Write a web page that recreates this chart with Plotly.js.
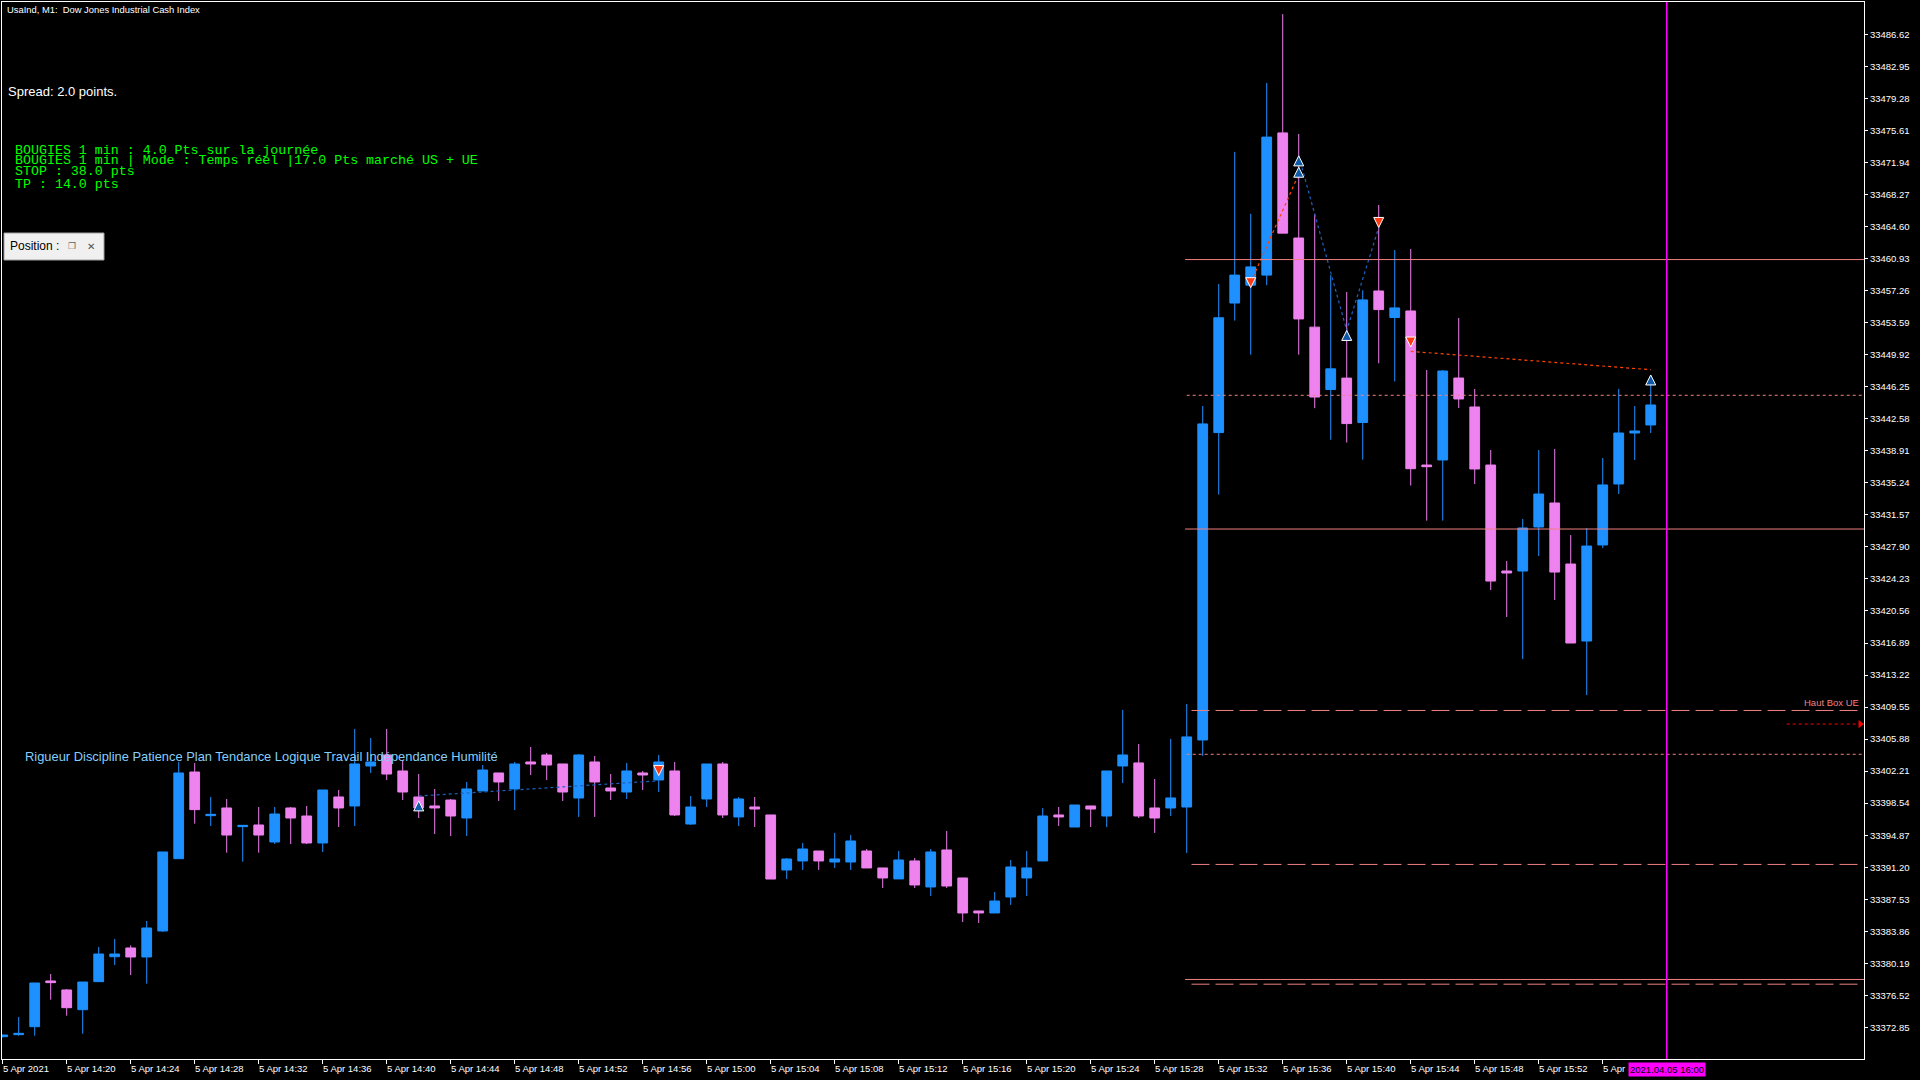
<!DOCTYPE html>
<html>
<head>
<meta charset="utf-8">
<script src="https://cdn.plot.ly/plotly-3.0.1.min.js"></script>
<style>
  html, body { margin: 0; padding: 0; background: #000000; }
  #chart { width: 1920px; height: 1080px; }
</style>
</head>
<body>
<div id="chart"></div>
<script>
// UsaInd M1 bars, 5 Apr 2021, one per minute from 14:16 to 15:59
const opens = [
  33371.79, 33372.02, 33372.93, 33378.17, 33377.14, 33374.88, 33378.09, 33380.95, 33381.95, 33380.92,
  33383.90, 33392.18, 33402.11, 33397.11, 33397.99, 33395.85, 33396.04, 33394.09, 33397.99, 33397.07,
  33393.98, 33399.25, 33398.22, 33402.80, 33404.06, 33402.23, 33399.25, 33398.22, 33398.90, 33396.84,
  33399.94, 33402.00, 33400.17, 33403.26, 33404.06, 33403.03, 33399.13, 33403.26, 33400.28, 33399.82,
  33402.00, 33401.20, 33402.23, 33396.15, 33399.02, 33403.03, 33396.96, 33398.10, 33397.19, 33390.88,
  33391.92, 33393.06, 33391.80, 33391.80, 33393.06, 33391.12, 33389.86, 33391.92, 33388.94, 33393.18,
  33389.97, 33386.19, 33385.96, 33387.79, 33389.97, 33391.92, 33397.19, 33395.81, 33398.22, 33397.07,
  33402.80, 33403.15, 33397.99, 33397.99, 33398.10, 33405.78, 33441.00, 33455.84, 33457.89, 33459.04,
  33475.33, 33463.29, 33453.08, 33445.93, 33447.24, 33442.15, 33457.22, 33454.18, 33454.93, 33437.28,
  33437.86, 33447.25, 33443.93, 33437.28, 33425.14, 33425.14, 33430.18, 33432.93, 33425.94, 33417.12,
  33428.12, 33435.11, 33440.95, 33441.87
];
const highs = [
  33372.00, 33374.04, 33377.94, 33378.97, 33377.25, 33378.05, 33382.06, 33382.98, 33382.25, 33385.04,
  33392.95, 33403.26, 33403.14, 33399.25, 33399.02, 33396.00, 33398.10, 33398.10, 33398.10, 33398.22,
  33400.05, 33400.05, 33407.04, 33406.01, 33407.04, 33403.49, 33401.88, 33400.17, 33399.02, 33400.97,
  33402.91, 33402.00, 33403.26, 33404.98, 33404.29, 33403.03, 33404.17, 33403.94, 33401.88, 33403.14,
  33402.23, 33404.06, 33403.26, 33399.36, 33403.03, 33403.26, 33399.25, 33399.25, 33397.19, 33392.26,
  33393.98, 33393.06, 33395.13, 33394.90, 33393.29, 33391.12, 33393.06, 33392.26, 33393.29, 33395.36,
  33389.97, 33386.19, 33388.37, 33392.03, 33393.06, 33397.99, 33398.10, 33398.33, 33398.22, 33402.23,
  33409.22, 33405.32, 33401.31, 33405.90, 33409.90, 33444.04, 33458.01, 33473.16, 33466.06, 33481.05,
  33488.94, 33475.21, 33466.06, 33459.04, 33457.11, 33457.30, 33467.08, 33461.92, 33462.03, 33448.17,
  33448.17, 33454.13, 33446.00, 33439.00, 33426.28, 33431.10, 33439.00, 33439.12, 33429.26, 33430.07,
  33438.09, 33446.00, 33444.04, 33447.40
];
const lows = [
  33371.70, 33371.90, 33371.90, 33376.03, 33374.19, 33372.13, 33378.09, 33380.00, 33378.85, 33377.86,
  33383.78, 33392.18, 33396.19, 33395.93, 33392.87, 33391.84, 33392.87, 33393.86, 33393.86, 33393.86,
  33392.95, 33395.81, 33395.93, 33402.00, 33401.20, 33398.90, 33396.84, 33395.01, 33394.78, 33394.78,
  33399.94, 33398.79, 33397.76, 33401.77, 33401.20, 33398.79, 33396.96, 33396.96, 33398.90, 33399.02,
  33400.05, 33399.82, 33397.07, 33396.04, 33398.10, 33396.84, 33395.93, 33395.81, 33389.85, 33389.85,
  33390.88, 33390.89, 33391.12, 33390.89, 33391.12, 33388.82, 33389.86, 33388.82, 33387.91, 33388.82,
  33384.93, 33384.81, 33385.96, 33386.88, 33387.91, 33391.92, 33395.93, 33395.81, 33395.81, 33395.81,
  33400.85, 33396.84, 33395.13, 33397.07, 33392.84, 33403.95, 33433.90, 33453.83, 33449.92, 33457.89,
  33463.85, 33449.92, 33443.80, 33440.18, 33439.86, 33437.89, 33448.94, 33446.85, 33434.93, 33430.91,
  33430.91, 33443.81, 33435.11, 33422.96, 33419.87, 33415.06, 33426.86, 33421.82, 33416.89, 33410.93,
  33427.77, 33433.96, 33437.86, 33440.95
];
const closes = [
  33371.98, 33372.17, 33377.94, 33377.98, 33375.11, 33378.05, 33381.26, 33381.26, 33380.92, 33384.24,
  33392.95, 33402.00, 33397.80, 33397.26, 33394.89, 33396.00, 33394.89, 33397.30, 33396.84, 33393.98,
  33400.05, 33397.99, 33403.03, 33403.26, 33401.88, 33399.82, 33397.99, 33397.99, 33397.07, 33400.17,
  33402.34, 33400.97, 33403.03, 33403.03, 33402.91, 33399.82, 33404.06, 33400.97, 33399.94, 33402.23,
  33401.77, 33403.26, 33397.19, 33398.10, 33403.03, 33397.19, 33399.02, 33397.87, 33389.85, 33392.14,
  33393.29, 33391.92, 33392.15, 33394.21, 33391.12, 33389.97, 33392.03, 33389.17, 33392.95, 33389.05,
  33385.96, 33385.96, 33387.33, 33391.23, 33391.12, 33397.07, 33396.96, 33398.33, 33397.87, 33402.23,
  33404.06, 33397.07, 33396.84, 33399.14, 33406.13, 33441.99, 33454.15, 33459.04, 33459.98, 33474.85,
  33463.85, 33454.02, 33445.07, 33448.30, 33442.03, 33456.20, 33455.09, 33455.28, 33436.86, 33437.09,
  33448.05, 33444.85, 33436.83, 33423.99, 33424.91, 33430.07, 33433.96, 33425.02, 33416.89, 33428.00,
  33435.00, 33440.95, 33441.18, 33444.16
];

// time axis: bar index 0 = 14:16
const xTickPos = [0, 4, 8, 12, 16, 20, 24, 28, 32, 36, 40, 44, 48, 52, 56, 60, 64, 68, 72, 76, 80, 84, 88, 92, 96, 100];
const xTickText = [
  "5 Apr 2021", "5 Apr 14:20", "5 Apr 14:24", "5 Apr 14:28", "5 Apr 14:32", "5 Apr 14:36", "5 Apr 14:40",
  "5 Apr 14:44", "5 Apr 14:48", "5 Apr 14:52", "5 Apr 14:56", "5 Apr 15:00", "5 Apr 15:04", "5 Apr 15:08",
  "5 Apr 15:12", "5 Apr 15:16", "5 Apr 15:20", "5 Apr 15:24", "5 Apr 15:28", "5 Apr 15:32", "5 Apr 15:36",
  "5 Apr 15:40", "5 Apr 15:44", "5 Apr 15:48", "5 Apr 15:52", "5 Apr"
];
const yTickVals = [
  33372.85, 33376.52, 33380.19, 33383.86, 33387.53, 33391.20, 33394.87, 33398.54, 33402.21, 33405.88,
  33409.55, 33413.22, 33416.89, 33420.56, 33424.23, 33427.90, 33431.57, 33435.24, 33438.91, 33442.58,
  33446.25, 33449.92, 33453.59, 33457.26, 33460.93, 33464.60, 33468.27, 33471.94, 33475.61, 33479.28,
  33482.95, 33486.62
];

// levels drawn from 15:30 to the right edge
const solidLevels = [33460.82, 33429.95, 33378.34];
const dashLevels = [33409.16, 33391.52, 33377.80];
const dotLevels = [33445.27, 33404.14];
const levelStart = 74;

// signal links and arrows
const sigBlue1X = [26, 41], sigBlue1Y = [33399.36, 33401.10];
const sigRed1X = [78, 81], sigRed1Y = [33458.20, 33470.60];
const sigBlue2X = [81, 84, 86], sigBlue2Y = [33472.70, 33452.70, 33464.50];
const sigRed2X = [88, 103], sigRed2Y = [33450.30, 33448.20];
const upX = [26, 81, 81, 84, 103], upY = [33398.80, 33472.70, 33471.40, 33452.70, 33447.60];
const downX = [41, 78, 86, 88], downY = [33401.70, 33457.60, 33464.50, 33450.80];

const nowBar = 104; // 16:00
const bidArrowX = [111.5, 116.1], bidArrowY = 33407.60;

const infoLines = [
  "BOUGIES 1 min : 4.0 Pts sur la journée",
  "BOUGIES 1 min | Mode : Temps réel |17.0 Pts marché US + UE",
  "STOP : 38.0 pts",
  "TP : 14.0 pts"
];
const infoLineY = [150, 160.5, 172, 184];
const mottoText = "Rigueur Discipline Patience Plan Tendance Logique Travail Indépendance Humilité";

const X_RANGE = [-0.044, 116.33];
const Y_RANGE = [33369.23, 33490.33];

// plot area in pixels (for placing texts like the terminal does)
const PL = 2, PT = 2, PW = 1862, PH = 1057;
const fx = (px) => (px - PL) / PW;
const fy = (py) => 1 - (py - PT) / PH;

const BLUE = "#1e90ff";
const VIOLET = "#ee82ee";
const CORAL = "#f08080";

function buildTraces() {
  const candles = {
    type: "candlestick",
    x: opens.map((_, i) => i),
    open: opens,
    high: highs,
    low: lows,
    close: closes,
    increasing: { line: { color: BLUE, width: 1 }, fillcolor: BLUE },
    decreasing: { line: { color: VIOLET, width: 1 }, fillcolor: VIOLET },
    whiskerwidth: 0,
    hoverinfo: "skip",
  };

  const link = (x, y, color) => ({
    type: "scatter",
    mode: "lines",
    x,
    y,
    line: { color, width: 1.2, dash: "3px,3px" },
    hoverinfo: "skip",
  });

  return [
    candles,
    link(sigBlue1X, sigBlue1Y, "#1a62c0"),
    link(sigRed1X, sigRed1Y, "#ff4500"),
    link(sigBlue2X, sigBlue2Y, "#1a62c0"),
    link(sigRed2X, sigRed2Y, "#ff4500"),
    {
      type: "scatter",
      mode: "markers",
      x: upX,
      y: upY,
      marker: { symbol: "arrow-up", size: 10, color: "#0f5aa8", line: { color: "#ffffff", width: 1 } },
      hoverinfo: "skip",
    },
    {
      type: "scatter",
      mode: "markers",
      x: downX,
      y: downY,
      marker: { symbol: "arrow-down", size: 10, color: "#ff3a12", line: { color: "#ffffff", width: 1 } },
      hoverinfo: "skip",
    },
    {
      type: "scatter",
      mode: "markers",
      x: [bidArrowX[1]],
      y: [bidArrowY],
      marker: { symbol: "triangle-right", size: 7, color: "#ff0000" },
      cliponaxis: false,
      hoverinfo: "skip",
    },
  ];
}

function buildShapes() {
  const shapes = [];
  solidLevels.forEach((lv) => {
    shapes.push({ type: "line", xref: "x", yref: "y", x0: levelStart - 0.1, x1: X_RANGE[1], y0: lv, y1: lv,
      line: { color: CORAL, width: 1 } });
  });
  dashLevels.forEach((lv) => {
    shapes.push({ type: "line", xref: "x", yref: "y", x0: levelStart + 0.3, x1: X_RANGE[1] - 0.2, y0: lv, y1: lv,
      line: { color: CORAL, width: 1, dash: "18px,6px" } });
  });
  dotLevels.forEach((lv) => {
    shapes.push({ type: "line", xref: "x", yref: "y", x0: levelStart, x1: X_RANGE[1], y0: lv, y1: lv,
      line: { color: CORAL, width: 1, dash: "3px,3px" } });
  });
  shapes.push({ type: "line", xref: "x", yref: "y", x0: bidArrowX[0], x1: bidArrowX[1], y0: bidArrowY, y1: bidArrowY,
    line: { color: "#ff0000", width: 1, dash: "3px,3px" } });
  shapes.push({ type: "line", xref: "x", yref: "paper", x0: nowBar, x1: nowBar, y0: 0, y1: 1,
    line: { color: "#ff00ff", width: 1.5 } });
  // "Position" panel
  shapes.push({ type: "rect", xref: "paper", yref: "paper", x0: fx(4), x1: fx(104), y0: fy(260), y1: fy(233),
    fillcolor: "#f0f0f0", line: { color: "#a0a0a0", width: 1 } });
  return shapes;
}

function buildAnnotations() {
  const ann = [];
  const txt = (text, px, py, font, extra) =>
    Object.assign({ text, xref: "paper", yref: "paper", x: fx(px), y: fy(py), xanchor: "left", yanchor: "middle",
      showarrow: false, font, borderpad: 0 }, extra || {});

  ann.push(txt("UsaInd, M1:\u00a0 Dow Jones Industrial Cash Index", 6, 9.5,
    { family: "Liberation Sans, Arial, sans-serif", size: 9.4, color: "#ffffff" }));
  ann.push(txt("Spread: 2.0 points.", 6.5, 91,
    { family: "Liberation Sans, Arial, sans-serif", size: 13, color: "#ffffff" }));
  infoLines.forEach((line, i) => {
    ann.push(txt(line.replace(/ /g, "\u00a0"), 13.5, infoLineY[i],
      { family: "Liberation Mono, Courier New, monospace", size: 13.3, color: "#00ff00" }));
  });
  ann.push(txt(mottoText, 23.5, 756,
    { family: "Liberation Sans, Arial, sans-serif", size: 12.9, color: "#87cefa" }));

  ann.push(txt("Position :", 9, 246.5, { family: "Liberation Sans, Arial, sans-serif", size: 12, color: "#000000" }));
  ann.push(txt("\u2750", 67, 246.5, { family: "DejaVu Sans, sans-serif", size: 9, color: "#606060" }));
  ann.push(txt("\u2715", 86, 246.5, { family: "DejaVu Sans, sans-serif", size: 10, color: "#505050" }));

  ann.push({ text: "Haut Box UE", xref: "x", yref: "y", x: 116.08, y: dashLevels[0], xanchor: "right", yanchor: "bottom",
    yshift: 1, showarrow: false, borderpad: 0,
    font: { family: "Liberation Sans, Arial, sans-serif", size: 9.5, color: CORAL } });

  xTickPos.forEach((pos, i) => {
    ann.push({ text: xTickText[i], xref: "x", yref: "paper", x: pos, y: 0, xanchor: "left", yanchor: "middle",
      yshift: -9.5, xshift: -0.5, showarrow: false, borderpad: 0,
      font: { family: "Liberation Sans, Arial, sans-serif", size: 9.5, color: "#ffffff" } });
  });
  ann.push({ text: "2021.04.05 16:00", xref: "x", yref: "paper", x: nowBar, y: 0, xanchor: "center", yanchor: "middle",
    yshift: -10.5, showarrow: false, borderpad: 1, bgcolor: "#ff00ff",
    font: { family: "Liberation Sans, Arial, sans-serif", size: 9.5, color: "#000000" } });
  return ann;
}

function buildLayout() {
  return {
    width: 1920,
    height: 1080,
    paper_bgcolor: "#000000",
    plot_bgcolor: "#000000",
    showlegend: false,
    hovermode: false,
    margin: { l: PL, r: 1920 - PL - PW, t: PT, b: 1080 - PT - PH, pad: 0 },
    boxgap: 0.39,
    boxgroupgap: 0,
    xaxis: {
      range: X_RANGE,
      rangeslider: { visible: false },
      tickmode: "array",
      tickvals: xTickPos,
      showticklabels: false,
      ticks: "outside",
      ticklen: 4,
      tickcolor: "#ffffff",
      showgrid: false,
      zeroline: false,
      showline: true,
      linecolor: "#ffffff",
      linewidth: 1,
      mirror: true,
    },
    yaxis: {
      side: "right",
      range: Y_RANGE,
      tickmode: "array",
      tickvals: yTickVals,
      tickformat: ".2f",
      ticks: "outside",
      ticklen: 3,
      tickcolor: "#ffffff",
      tickfont: { family: "Liberation Sans, Arial, sans-serif", size: 9.5, color: "#ffffff" },
      showgrid: false,
      zeroline: false,
      showline: true,
      linecolor: "#ffffff",
      linewidth: 1,
      mirror: true,
    },
    shapes: buildShapes(),
    annotations: buildAnnotations(),
  };
}

Plotly.newPlot("chart", buildTraces(), buildLayout(), { staticPlot: true, displayModeBar: false });
</script>
</body>
</html>
